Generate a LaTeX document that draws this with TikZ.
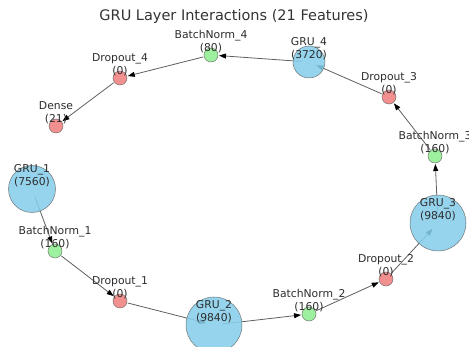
\documentclass[tikz,border=0pt]{standalone}
\usepackage{fontspec}
\setmainfont{DejaVu Sans}
\usetikzlibrary{arrows.meta,backgrounds}

\definecolor{gruc}{RGB}{135,206,235}
\definecolor{bnc}{RGB}{144,238,144}
\definecolor{dropc}{RGB}{240,128,128}
\definecolor{edgec}{RGB}{95,95,95}
\definecolor{txtc}{RGB}{45,45,45}

\begin{document}
\begin{tikzpicture}[x=1pt,y=-1pt,
  layerbase/.style={circle, draw=black!60, line width=0.5pt, opacity=0.88,
    inner sep=0pt, minimum size=#1},
  gru/.style={layerbase=#1, fill=gruc},
  bn/.style={layerbase=14pt, fill=bnc},
  drop/.style={layerbase=14pt, fill=dropc},
  lbl/.style={font=\fontsize{10.8}{13}\selectfont, text=txtc, align=center,
    inner sep=0pt},
  flow/.style={draw=edgec, line width=0.8pt,
    -{Triangle[length=7pt,width=5pt,color=black]},
    shorten >=8pt, shorten <=8pt}
]
\useasboundingbox (0,0) rectangle (469,347);
\clip (0,0) rectangle (469,347);

% title
\node[font=\fontsize{14.5}{17}\selectfont, text=black!80] (title) at (234,17)
  {GRU Layer Interactions (21 Features)};

% layers
\node[gru=47pt] (gru1) at (32,189) {};
\node[bn]       (bn1)  at (55,251) {};
\node[drop]     (do1)  at (120,301) {};
\node[gru=56pt] (gru2) at (214,325) {};
\node[bn]       (bn2)  at (309,314) {};
\node[drop]     (do2)  at (386,279) {};
\node[gru=56pt] (gru3) at (438,223) {};
\node[bn]       (bn3)  at (435,156) {};
\node[drop]     (do3)  at (389,97) {};
\node[gru=32pt] (gru4) at (309,62) {};
\node[bn]       (bn4)  at (211,55) {};
\node[drop]     (do4)  at (120,78) {};
\node[drop]     (dense) at (56,126) {};

% connections, beneath the layers
\begin{pgfonlayer}{background}
\foreach \a/\b in {gru1/bn1, bn1/do1, do1/gru2, gru2/bn2, bn2/do2, do2/gru3,
                   gru3/bn3, bn3/do3, do3/gru4, gru4/bn4, bn4/do4, do4/dense}
  \draw[flow] (\a.center) -- (\b.center);
\end{pgfonlayer}

% names and parameter counts
\node[lbl] (t-gru1)  at ([yshift=13.5pt]gru1.center)  {GRU\_1\\(7560)};
\node[lbl] (t-bn1)   at ([yshift=13.5pt]bn1.center)   {BatchNorm\_1\\(160)};
\node[lbl] (t-do1)   at ([yshift=13.5pt]do1.center)   {Dropout\_1\\(0)};
\node[lbl] (t-gru2)  at ([yshift=13.5pt]gru2.center)  {GRU\_2\\(9840)};
\node[lbl] (t-bn2)   at ([yshift=13.5pt]bn2.center)   {BatchNorm\_2\\(160)};
\node[lbl] (t-do2)   at ([yshift=13.5pt]do2.center)   {Dropout\_2\\(0)};
\node[lbl] (t-gru3)  at ([yshift=13.5pt]gru3.center)  {GRU\_3\\(9840)};
\node[lbl] (t-bn3)   at ([yshift=13.5pt]bn3.center)   {BatchNorm\_3\\(160)};
\node[lbl] (t-do3)   at ([yshift=13.5pt]do3.center)   {Dropout\_3\\(0)};
\node[lbl] (t-gru4)  at ([yshift=13.5pt]gru4.center)  {GRU\_4\\(3720)};
\node[lbl] (t-bn4)   at ([yshift=13.5pt]bn4.center)   {BatchNorm\_4\\(80)};
\node[lbl] (t-do4)   at ([yshift=13.5pt]do4.center)   {Dropout\_4\\(0)};
\node[lbl] (t-dense) at ([yshift=13.5pt]dense.center) {Dense\\(21)};
\end{tikzpicture}
\end{document}
